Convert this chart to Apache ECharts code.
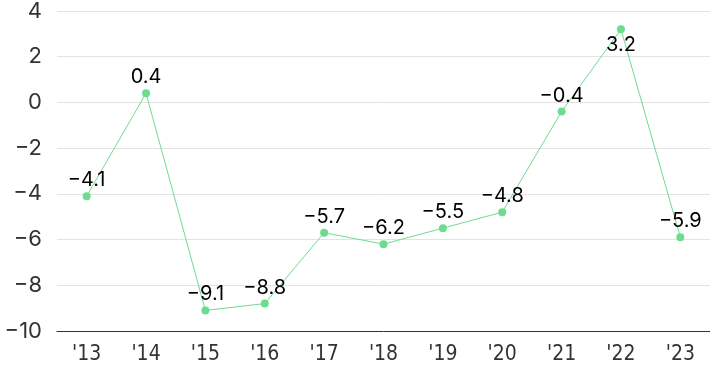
<!DOCTYPE html>
<html><head><meta charset="utf-8">
<script src="https://cdn.jsdelivr.net/npm/echarts@6/dist/echarts.min.js"></script>
<style>html,body{margin:0;padding:0;background:#fff}#c{width:710px;height:371px}</style>
</head><body><div id="c"></div>
<script>
const categories = ["'13","'14","'15","'16","'17","'18","'19","'20","'21","'22","'23"];
const values = [-4.1, 0.4, -9.1, -8.8, -5.7, -6.2, -5.5, -4.8, -0.4, 3.2, -5.9];
const yTicks = [-10, -8, -6, -4, -2, 0, 2, 4];
const labelBelow = [false,false,false,false,false,false,false,false,false,true,false];

const minus = s => String(s).replace('-', '\u2212');
const chart = echarts.init(document.getElementById('c'));
chart.setOption({
  animation: false,
  grid: {left: 57, right: 0, top: 8, bottom: 40},
  xAxis: {
    type: 'category', data: categories, boundaryGap: true,
    axisLine: {onZero: false, lineStyle: {color: '#333', width: 1}},
    axisTick: {show: false},
    axisLabel: {color: '#333', fontSize: 21, fontFamily: '"DejaVu Sans Condensed", Roboto', margin: 13}
  },
  yAxis: {
    type: 'value', min: yTicks[0], max: yTicks[yTicks.length-1], interval: 2,
    axisLine: {show: false}, axisTick: {show: false},
    splitLine: {lineStyle: {color: '#e3e3e3', width: 1}},
    axisLabel: {color: '#333', fontSize: 22, fontFamily: 'Inter', margin: 15, formatter: v => minus(v)}
  },
  series: [{
    type: 'line',
    data: values.map((v, i) => ({value: v, label: {position: labelBelow[i] ? 'bottom' : 'top'}})),
    symbol: 'circle', symbolSize: 8,
    lineStyle: {color: '#6ddc90', width: 1},
    itemStyle: {color: '#6ddc90'},
    label: {show: true, color: '#000', fontSize: 20, fontFamily: 'Inter', distance: 2,
      formatter: p => minus(p.value)}
  }]
});
</script></body></html>
